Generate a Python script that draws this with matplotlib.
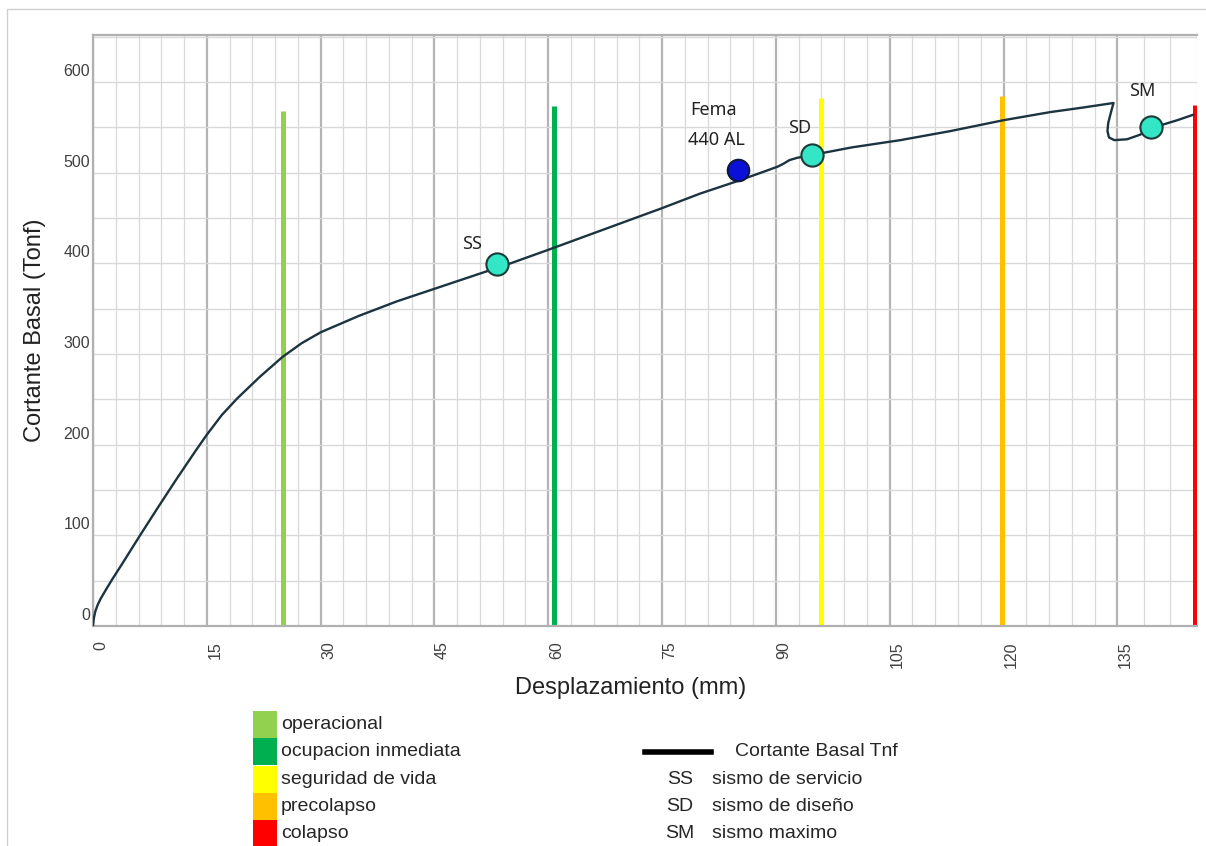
import matplotlib
matplotlib.use("Agg")
import matplotlib.pyplot as plt
import numpy as np
from matplotlib.transforms import ScaledTranslation
from matplotlib.patches import Rectangle
from matplotlib.lines import Line2D

# ---------------- data ----------------
curve_x = [0, 0.1, 0.3, 0.6, 1.0, 1.7, 2.5, 3.8, 5.0, 6.2, 8.5, 11.0, 13.5,
           15.0, 17.0, 19.0, 22.0, 25.0, 27.5, 30.0, 35.0, 40.0, 45.0, 50.0,
           55.0, 60.0, 67.5, 75.0, 80.0, 85.0, 89.0, 90.3, 91.0, 91.8, 92.8,
           94.7, 100.0, 106.4, 113.0, 120.0, 126.2, 130.5, 134.5, 134.2,
           133.8, 133.7, 133.9, 134.6, 136.3, 138.0, 139.4, 142.9, 145.0]
curve_y = [0, 8, 16, 23, 30, 40, 51, 68, 84, 100, 130, 162, 193,
           211, 233, 251, 275, 297, 312, 324, 342, 358, 372, 386,
           400, 415, 438, 461, 477, 491, 503, 507, 510, 514, 516.5,
           519.5, 528, 536, 546, 558, 567, 572, 577, 568,
           555, 546, 539, 536, 537, 542, 549, 558, 564]

level_names = ["operacional", "ocupacion inmediata", "seguridad de vida",
               "precolapso", "colapso"]
level_x = [25.1, 60.8, 95.9, 119.8, 145.2]
level_top = [568, 574, 583, 585, 575]
level_colors = ["#92D050", "#00B050", "#FFFF00", "#FFC000", "#FF0000"]

point_names = ["SS", "SD", "SM"]
point_x = [53.2, 94.7, 139.4]
point_y = [399, 520, 550]
fema_x = [85.0]
fema_y = [503]
fema_label = ["Fema", "440 AL"]

legend_codes = ["SS", "SD", "SM"]
legend_desc = ["sismo de servicio", "sismo de diseño", "sismo maximo"]

x_major = list(range(0, 136, 15))
y_major = list(range(0, 601, 100))

# ---------------- figure ----------------
W, H = 1206, 846
fig = plt.figure(figsize=(W / 100, H / 100), dpi=100)
plt.rcParams['font.family'] = ['Liberation Sans', 'DejaVu Sans']

def fx(px):
    return px / W

def fy(py):
    return 1 - py / H

ax = fig.add_axes([fx(93), fy(626), fx(1197) - fx(93), fy(35) - fy(626)])
ax.set_xlim(0, 145.5)
ax.set_ylim(0, 652)

# grid
ax.set_xticks(x_major)
ax.set_xticks(list(np.arange(3, 135, 3)) + [138.5, 142.0, 145.5], minor=True)
ax.set_yticks(y_major)
ax.set_yticks(list(range(50, 651, 100)), minor=True)
ax.grid(which='major', axis='x', color='#b4b4b4', lw=1.6)
ax.grid(which='minor', axis='x', color='#d9d9d9', lw=0.9)
ax.grid(which='both', axis='y', color='#d9d9d9', lw=1.0)
ax.set_axisbelow(True)
for s in ['left', 'bottom', 'top']:
    ax.spines[s].set_color('#b0b0b0')
    ax.spines[s].set_linewidth(1.6)
ax.spines['right'].set_visible(False)

ax.tick_params(axis='both', which='both', length=0)
ax.tick_params(axis='y', labelsize=11.5, labelcolor='#404040', pad=2)
ax.tick_params(axis='x', labelsize=11.5, labelcolor='#404040', pad=11,
               labelrotation=90)
for lab in ax.get_yticklabels():
    lab.set_transform(lab.get_transform() + ScaledTranslation(0, 0.12, fig.dpi_scale_trans))
for lab in ax.get_xticklabels():
    lab.set_transform(lab.get_transform() + ScaledTranslation(0.08, 0, fig.dpi_scale_trans))

# performance levels
for xv, top, c in zip(level_x, level_top, level_colors):
    ax.plot([xv, xv], [0, top], color=c, lw=3.6, solid_capstyle='butt', zorder=2)

# capacity curve
ax.plot(curve_x, curve_y, color='#1B3440', lw=1.7, zorder=3,
        solid_joinstyle='round', solid_capstyle='round')

# points
ax.plot(point_x, point_y, 'o', ms=16, mfc='#33E6C6', mec='#1B3A38', mew=1.5, zorder=4)
ax.plot(fema_x, fema_y, 'o', ms=15.5, mfc='#0A10D8', mec='#111840', mew=1.5, zorder=4)

ann = dict(fontsize=13, color='#222222', family=['Noto Sans', 'DejaVu Sans'],
           ha='center', va='center')
ax.text(50.0, 421, point_names[0], **ann)
ax.text(93.1, 549, point_names[1], **ann)
ax.text(138.3, 590, point_names[2], **ann)
ax.text(78.7, 569, fema_label[0], **{**ann, 'ha': 'left'})
ax.text(78.4, 536, fema_label[1], **{**ann, 'ha': 'left'})

# axis titles
fig.text(fx(631), fy(688), "Desplazamiento (mm)", fontsize=17, color='#222222',
         ha='center', va='center')
fig.text(fx(35), fy(330), "Cortante Basal (Tonf)", fontsize=17, color='#222222',
         ha='center', va='center', rotation=90)

# legend: performance levels
row_top = [711, 738, 766, 793, 820]
row_h = 27
for i, (name, c) in enumerate(zip(level_names, level_colors)):
    fig.patches.append(Rectangle((fx(253), fy(row_top[i] + row_h)), fx(277) - fx(253),
                                 row_h / H, transform=fig.transFigure,
                                 facecolor=c, edgecolor='none'))
    fig.text(fx(281), fy(row_top[i] + row_h / 2), name, fontsize=14,
             color='#262626', ha='left', va='center')

# legend: curve and seismic levels
fig.lines.append(Line2D([fx(645), fx(711)], [fy(752), fy(752)], color='black',
                        lw=4, transform=fig.transFigure))
fig.text(fx(735), fy(752), "Cortante Basal Tnf", fontsize=14, color='#262626',
         ha='left', va='center')
for i, (code, desc) in enumerate(zip(legend_codes, legend_desc)):
    yy = fy(779 + 27 * i)
    fig.text(fx(680), yy, code, fontsize=14, color='#262626', ha='center', va='center')
    fig.text(fx(712), yy, desc, fontsize=14, color='#262626', ha='left', va='center')

# outer frame
fig.lines.append(Line2D([fx(7), fx(7), fx(1206)], [fy(846), fy(9), fy(9)],
                        color='#d0d0d0', lw=1, transform=fig.transFigure))

fig.savefig("out.png", dpi=100)
